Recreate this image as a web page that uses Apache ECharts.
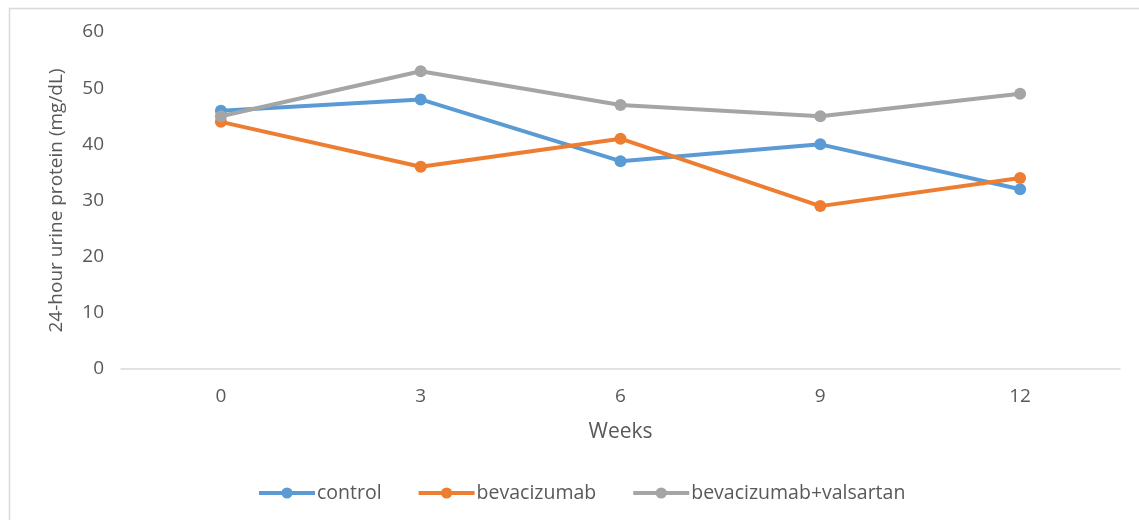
<!DOCTYPE html>
<html>
<head>
<meta charset="utf-8">
<script src="https://cdn.jsdelivr.net/npm/echarts@6/dist/echarts.min.js"></script>
<style>
html,body{margin:0;padding:0;background:#fff;}
#chart{width:1139px;height:520px;}
</style>
</head>
<body>
<div id="chart"></div>
<script>
const weeks = ['0', '3', '6', '9', '12'];
const control = [46, 48, 37, 40, 32];
const bevacizumab = [44, 36, 41, 29, 34];
const bevaValsartan = [45, 53, 47, 45, 49];
const seriesNames = ['control', 'bevacizumab', 'bevacizumab+valsartan'];
const colors = ['#5B9BD5', '#ED7D31', '#A5A5A5'];

const font = 'Open Sans';
const textColor = '#595959';
const chart = echarts.init(document.getElementById('chart'));
function mk(name, data, color) {
  return {
    name: name, type: 'line', data: data,
    symbol: 'circle', symbolSize: 12,
    lineStyle: { width: 4, color: color },
    itemStyle: { color: color },
    emphasis: { disabled: true }
  };
}
chart.setOption({
  animation: false,
  color: colors,
  graphic: [{
    type: 'rect', left: 7, top: 6,
    shape: { width: 1200, height: 600 },
    style: { fill: 'none', stroke: '#D9D9D9', lineWidth: 1.5 },
    silent: true
  }],
  grid: { left: 121, right: 19, top: 32, bottom: 151, containLabel: false },
  legend: {
    bottom: 12, left: 252,
    itemWidth: 56, itemHeight: 14, itemGap: 35,
    lineStyle: { width: 4 },
    textStyle: { fontFamily: font, fontSize: 19.5, color: textColor, padding: [0, 0, 0, -3] },
    data: seriesNames
  },
  xAxis: {
    type: 'category', data: weeks, boundaryGap: true,
    name: 'Weeks', nameLocation: 'middle', nameGap: 53,
    nameTextStyle: { fontFamily: font, fontSize: 21, color: textColor },
    axisLine: { lineStyle: { color: '#D9D9D9', width: 1.5 } },
    axisTick: { show: false },
    axisLabel: { fontFamily: font, fontSize: 19, color: textColor, margin: 18 }
  },
  yAxis: {
    type: 'value', min: 0, max: 60, interval: 10,
    name: '24-hour urine protein (mg/dL)', nameLocation: 'middle', nameGap: 55,
    nameTextStyle: { fontFamily: font, fontSize: 19, color: textColor },
    axisLine: { show: false },
    axisTick: { show: false },
    splitLine: { show: false },
    axisLabel: { fontFamily: font, fontSize: 19, color: textColor, margin: 17 }
  },
  series: [
    mk(seriesNames[0], control, colors[0]),
    mk(seriesNames[1], bevacizumab, colors[1]),
    mk(seriesNames[2], bevaValsartan, colors[2])
  ]
});
</script>
</body>
</html>
